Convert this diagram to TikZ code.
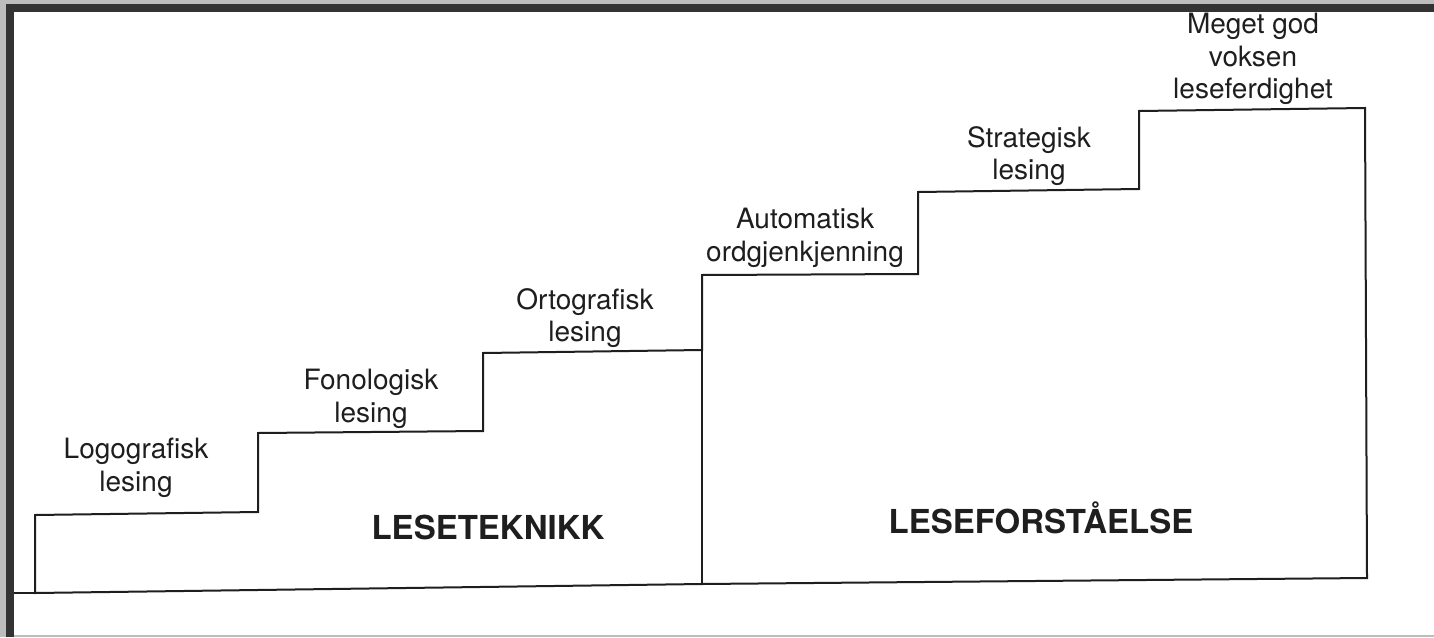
\documentclass[tikz,border=0pt]{standalone}
\usepackage{fontspec}
\setmainfont{TeX Gyre Heros}
\usepackage{tikz}
\usetikzlibrary{positioning}
\definecolor{framegray}{HTML}{BDBDBD}
\definecolor{framedark}{HTML}{333333}
\definecolor{inkblack}{HTML}{1E1E1E}
\tikzstyle{stage} = [
    align=center,
    inner sep=0pt,
    text=inkblack,
    font=\fontsize{28}{32.5}\selectfont
]
\tikzstyle{area} = [
    inner sep=0pt,
    text=inkblack,
    font=\fontsize{33}{36}\selectfont\bfseries
]
\tikzstyle{stair} = [
    line width=2pt,
    draw=inkblack,
    line join=miter
]
\begin{document}
\begin{tikzpicture}[x=1pt, y=-1pt]
        \useasboundingbox (0,0) rectangle (1434,637);
        % Frame
        \fill[framegray] (0,0) rectangle (1434,637);
        \fill[white] (14,12) rectangle (1434,635);
        \fill[framedark] (6,4) rectangle (1434,12);
        \fill[framedark] (6,4) rectangle (14,637);

        % Staircase
        \draw[stair] (35,593) -- (35,515) -- (258,512) -- (258,433)
            -- (483,431) -- (483,353) -- (702,350) -- (702,275)
            -- (918,274) -- (918,192) -- (1139,189) -- (1139,111)
            -- (1365,108) -- (1367,578) -- (702,584) -- cycle;
        \draw[stair] (14,593) -- (35,593);
        \draw[stair] (702,350) -- (702,584);

        % Stages
        \node[stage] (logo) at (136,468) {Logografisk\\lesing};
        \node[stage] (fono) at (371,399) {Fonologisk\\lesing};
        \node[stage] (orto) at (585,318) {Ortografisk\\lesing};
        \node[stage] (auto) at (805,238) {Automatisk\\ordgjenkjenning};
        \node[stage] (strat) at (1029,156) {Strategisk\\lesing};
        \node[stage] (voksen) at (1253,59) {Meget god\\voksen\\leseferdighet};

        % Areas
        \node[area] (teknikk) at (488,527) {LESETEKNIKK};
        \node[area] (forstaelse) at (1041,518) {LESEFORSTÅELSE};
    \end{tikzpicture}
\end{document}
